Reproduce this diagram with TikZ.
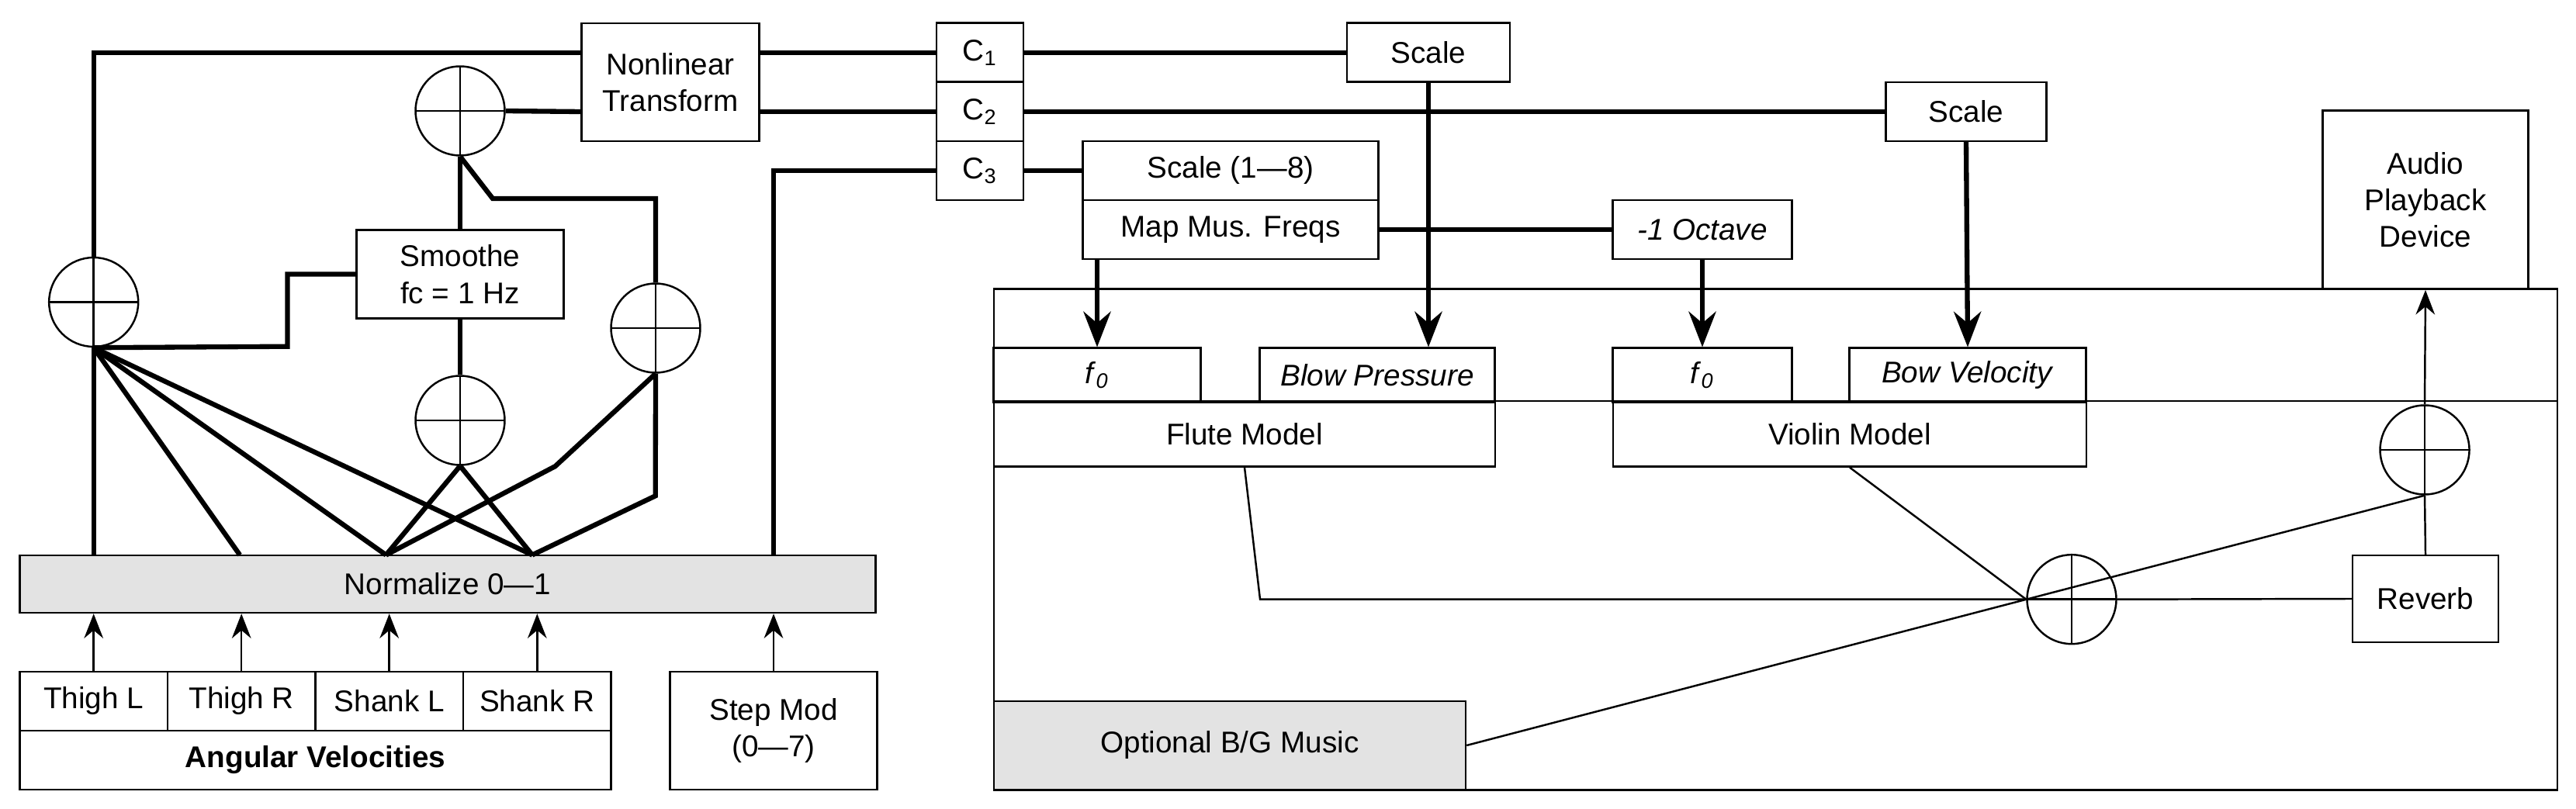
\documentclass[tikz,border=0pt]{standalone}
\usepackage{fontspec}
\setmainfont{Liberation Sans}
\usetikzlibrary{arrows.meta}
\begin{document}
\begin{tikzpicture}[
        font=\fontsize{11}{13.5}\selectfont,
        box/.style={rectangle, draw, line width=0.7pt, inner sep=1pt, align=center},
        grey/.style={box, fill=black!11},
        sum/.style={circle, draw, line width=0.7pt, minimum size=1.15cm, inner sep=0pt,
            path picture={\draw[line width=0.7pt] (path picture bounding box.north) -- (path picture bounding box.south)
                (path picture bounding box.west) -- (path picture bounding box.east);}},
        wire/.style={line width=1.8pt},
        thin/.style={line width=0.7pt},
        arrow/.style={-{Stealth[length=9pt,width=7pt]}, line width=0.7pt},
        bigarrow/.style={-{Stealth[length=13pt,width=10pt]}, line width=1.8pt}
    ]
        \useasboundingbox (0,0) rectangle (33.2,-10.43);
        % sensors and normalisation
        \node[grey, minimum width=11.03cm, minimum height=0.74cm] (norm) at (5.77,-7.53) {Normalize 0---1};
        \node[box, minimum width=1.905cm, minimum height=0.76cm] (thl) at (1.207,-9.04) {Thigh L};
        \node[box, minimum width=1.905cm, minimum height=0.76cm] (thr) at (3.112,-9.04) {Thigh R};
        \node[box, minimum width=1.905cm, minimum height=0.76cm] (shl) at (5.017,-9.04) {Shank L};
        \node[box, minimum width=1.905cm, minimum height=0.76cm] (shr) at (6.923,-9.04) {Shank R};
        \node[box, minimum width=7.62cm, minimum height=0.76cm] (angvel) at (4.065,-9.80) {\textbf{Angular Velocities}};
        \node[box, minimum width=2.67cm, minimum height=1.52cm] (step) at (9.97,-9.42) {Step Mod\\(0---7)};
        \node[sum] (suml) at (1.207,-3.895) {};
        \node[sum] (sumt) at (5.93,-1.43) {};
        \node[sum] (summ) at (5.93,-5.42) {};
        \node[sum] (sumr) at (8.45,-4.23) {};
        \node[box, minimum width=2.67cm, minimum height=1.14cm] (smooth) at (5.93,-3.535) {Smoothe\\fc = 1 Hz};
        \node[box, minimum width=2.29cm, minimum height=1.52cm] (nonlin) at (8.64,-1.06) {Nonlinear\\Transform};
        \node[box, minimum width=1.12cm, minimum height=0.76cm] (cone) at (12.63,-0.677) {C\textsubscript{1}};
        \node[box, minimum width=1.12cm, minimum height=0.76cm] (ctwo) at (12.63,-1.44) {C\textsubscript{2}};
        \node[box, minimum width=1.12cm, minimum height=0.76cm] (cthree) at (12.63,-2.20) {C\textsubscript{3}};
        % mapping
        \node[box, minimum width=2.10cm, minimum height=0.76cm] (scalea) at (18.41,-0.677) {Scale};
        \node[box, minimum width=2.07cm, minimum height=0.76cm] (scaleb) at (25.34,-1.44) {Scale};
        \node[box, minimum width=3.81cm, minimum height=0.76cm] (scalec) at (15.86,-2.20) {Scale (1---8)};
        \node[box, minimum width=3.81cm, minimum height=0.76cm] (mapfreq) at (15.86,-2.96) {Map Mus. Freqs};
        \node[box, minimum width=2.31cm, minimum height=0.76cm] (octave) at (21.94,-2.96) {\textit{-1 Octave}};
        % synthesis
        \node[box, minimum width=20.15cm, minimum height=6.46cm] (synth) at (22.885,-6.954) {};
        \node[box, minimum width=2.67cm, minimum height=0.70cm] (f0a) at (14.14,-4.837) {\textit{f}\textsubscript{\textit{0}}};
        \node[box, minimum width=3.03cm, minimum height=0.70cm] (blow) at (17.75,-4.837) {\textit{Blow Pressure}};
        \node[box, minimum width=2.31cm, minimum height=0.70cm] (f0b) at (21.94,-4.837) {\textit{f}\textsubscript{\textit{0}}};
        \node[box, minimum width=3.05cm, minimum height=0.70cm] (bow) at (25.36,-4.837) {\textit{Bow Velocity}};
        \node[box, minimum width=6.46cm, minimum height=0.83cm] (flute) at (16.04,-5.60) {Flute Model};
        \node[box, minimum width=6.10cm, minimum height=0.83cm] (violin) at (23.84,-5.60) {Violin Model};
        \node[box, minimum width=2.65cm, minimum height=2.30cm] (audio) at (31.26,-2.577) {Audio\\Playback\\Device};
        \node[sum] (sumout) at (31.25,-5.80) {};
        \node[sum] (summix) at (26.70,-7.727) {};
        \node[box, minimum width=1.88cm, minimum height=1.12cm] (reverb) at (31.26,-7.72) {Reverb};
        \node[grey, minimum width=6.08cm, minimum height=1.14cm] (bgmusic) at (15.85,-9.61) {Optional B/G Music};
        \coordinate (na) at (3.091,-7.155);
        \coordinate (nb) at (4.975,-7.155);
        \coordinate (nc) at (6.86,-7.155);

        \draw[thin] (synth.west |- flute.north) -- (synth.east |- flute.north);
        \foreach \s in {thl,thr,shl,shr,step}
            \draw[arrow] (\s.north) -- (\s.north |- norm.south);
        \draw[wire] (suml.north) |- (nonlin.west |- cone);
        \draw[wire] (sumt.east) -- (nonlin.west |- ctwo);
        \draw[wire] (nonlin.east |- cone) -- (cone.west);
        \draw[wire] (nonlin.east |- ctwo) -- (ctwo.west);
        \draw[wire] (sumt.south) -- (smooth.north);
        \draw[wire] (sumt.south) -- (6.35,-2.56) -| (sumr.north);
        \draw[wire] (smooth.west) -| (3.705,-4.467) -- (suml.south);
        \draw[wire] (smooth.south) -- (summ.north);
        \draw[wire] (suml.south) -- (suml.south |- norm.north);
        \foreach \n in {na,nb,nc}
            \draw[wire] (suml.south) -- (\n);
        \draw[wire] (summ.south) -- (nb);
        \draw[wire] (summ.south) -- (nc);
        \draw[wire] (sumr.south) -- (7.155,-6.012) -- (nb);
        \draw[wire] (sumr.south) -- (8.447,-6.393) -- (nc);
        \draw[wire] (step.north |- norm.north) |- (cthree.west);
        \draw[wire] (cone.east) -- (scalea.west);
        \draw[wire] (ctwo.east) -- (scaleb.west);
        \draw[wire] (cthree.east) -- (scalec.west);
        \draw[wire] (mapfreq.east) -- (octave.west);
        \draw[bigarrow] (mapfreq.south -| f0a) -- (f0a.north);
        \draw[bigarrow] (scalea.south) -- (scalea.south |- blow.north);
        \draw[bigarrow] (octave.south) -- (f0b.north);
        \draw[bigarrow] (scaleb.south) -- (bow.north);
        \draw[thin] (flute.south) -- (16.24,-7.727) -- (summix.west);
        \draw[thin] (violin.south) -- (summix.west);
        \draw[thin] (bgmusic.east) -- (sumout.south);
        \draw[thin] (summix.east) -- (reverb.west);
        \draw[thin] (reverb.north) -- (sumout.south);
        \draw[arrow] (sumout.north) -- (audio.south);
    \end{tikzpicture}
\end{document}
